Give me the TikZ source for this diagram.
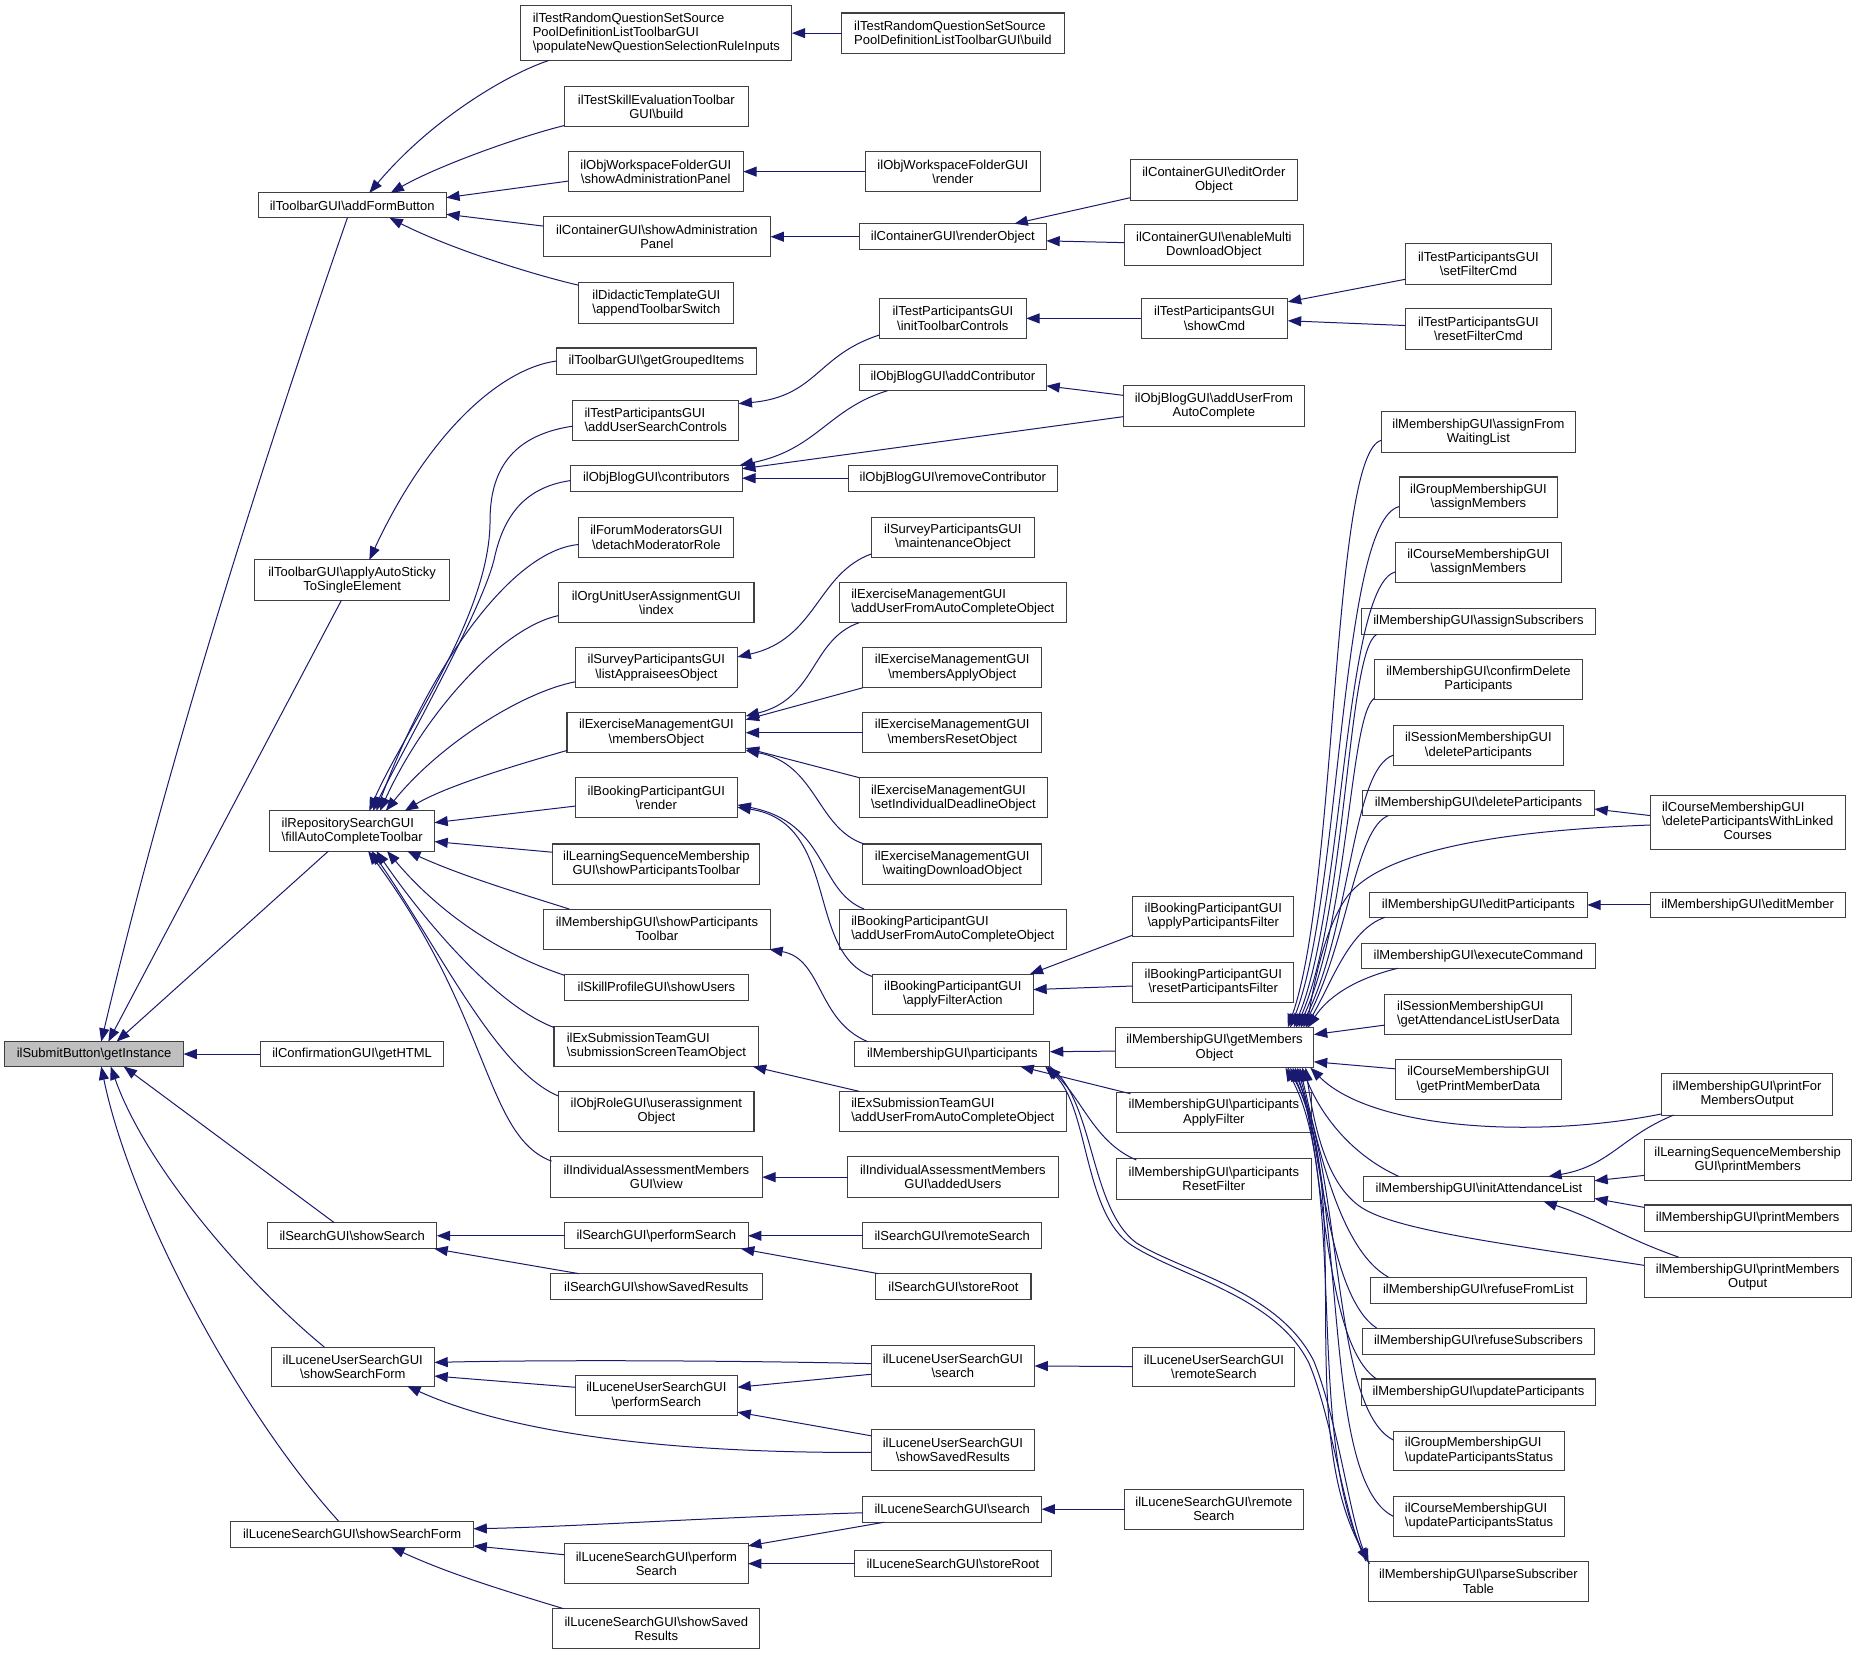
\documentclass[tikz,border=0pt]{standalone}
\usepackage{fontspec}
\setmainfont{Liberation Sans}
\usetikzlibrary{arrows.meta,calc}
\definecolor{edgec}{HTML}{191970}
\definecolor{boxc}{HTML}{404040}
\definecolor{rootc}{HTML}{BFBFBF}
\newcommand\bs{\textbackslash}
\tikzset{
  box/.style={draw=boxc, line width=0.8pt, fill=white, inner sep=0pt, outer sep=0pt, align=center, text=black},
  boxl/.style={box, align=left},
  rootbox/.style={box, fill=rootc},
  edg/.style={draw=edgec, line width=0.75pt, -{Triangle[length=10pt,width=7.5pt]}}
}
\newcommand\nd[7][box]{\node[#1, minimum width={(#5-#3)*0.8878pt}, minimum height={(#6-#4)*0.8878pt}] (#2) at ({(#3+#5)/2},{(#4+#6)/2}) {#7};}
\begin{document}
\begin{tikzpicture}[x=0.8878pt,y=-0.8878pt,font=\fontsize{9.75}{10.7}\selectfont]
\useasboundingbox (0,0) rectangle (1568,1398);
\fill[white] (0,0) rectangle (1568,1398);
% column 0/1
\nd[rootbox]{root}{4}{880}{155}{901}{ilSubmitButton\bs getInstance}
\nd{afb}{218}{163}{377}{184}{ilToolbarGUI\bs addFormButton}
\nd{aas}{215}{473}{380}{507}{ilToolbarGUI\bs applyAutoSticky\\ToSingleElement}
\nd[boxl]{fac}{228}{685}{367}{719}{ilRepositorySearchGUI\\\bs fillAutoCompleteToolbar}
\nd{html}{220}{880}{375}{901}{ilConfirmationGUI\bs getHTML}
\nd{ss}{226}{1033}{369}{1055}{ilSearchGUI\bs showSearch}
\nd{lussf}{229}{1138}{367}{1171}{ilLuceneUserSearchGUI\\\bs showSearchForm}
\nd{lssf}{195}{1285}{400}{1307}{ilLuceneSearchGUI\bs showSearchForm}
% column 2
\nd[boxl]{pop}{440}{5}{669}{51}{ilTestRandomQuestionSetSource\\PoolDefinitionListToolbarGUI\\\bs populateNewQuestionSelectionRuleInputs}
\nd{tse}{477}{73}{632}{107}{ilTestSkillEvaluationToolbar\\GUI\bs build}
\nd{wsf}{480}{128}{628}{162}{ilObjWorkspaceFolderGUI\\\bs showAdministrationPanel}
\nd{csap}{459}{183}{651}{217}{ilContainerGUI\bs showAdministration\\Panel}
\nd{dtg}{489}{239}{620}{273}{ilDidacticTemplateGUI\\\bs appendToolbarSwitch}
\nd{ggi}{470}{294}{639}{316}{ilToolbarGUI\bs getGroupedItems}
\nd[boxl]{tpasc}{484}{338}{624}{372}{ilTestParticipantsGUI\\\bs addUserSearchControls}
\nd{blogc}{482}{393}{627}{415}{ilObjBlogGUI\bs contributors}
\nd{fm}{489}{437}{620}{471}{ilForumModeratorsGUI\\\bs detachModeratorRole}
\nd{ou}{472}{492}{637}{526}{ilOrgUnitUserAssignmentGUI\\\bs index}
\nd{sla}{486}{547}{623}{581}{ilSurveyParticipantsGUI\\\bs listAppraiseesObject}
\nd{emo}{479}{602}{630}{636}{ilExerciseManagementGUI\\\bs membersObject}
\nd{bpr}{486}{657}{623}{691}{ilBookingParticipantGUI\\\bs render}
\nd{lsspt}{467}{713}{642}{747}{ilLearningSequenceMembership\\GUI\bs showParticipantsToolbar}
\nd{mspt}{459}{768}{651}{802}{ilMembershipGUI\bs showParticipants\\Toolbar}
\nd{spsu}{477}{823}{632}{845}{ilSkillProfileGUI\bs showUsers}
\nd[boxl]{exsst}{468}{867}{641}{901}{ilExSubmissionTeamGUI\\\bs submissionScreenTeamObject}
\nd{orua}{472}{922}{637}{956}{ilObjRoleGUI\bs userassignment\\Object}
\nd{iamv}{465}{977}{644}{1012}{ilIndividualAssessmentMembers\\GUI\bs view}
\nd{sgps}{477}{1033}{632}{1055}{ilSearchGUI\bs performSearch}
\nd{sgssr}{465}{1076}{644}{1098}{ilSearchGUI\bs showSavedResults}
\nd{lups}{486}{1162}{623}{1196}{ilLuceneUserSearchGUI\\\bs performSearch}
\nd{lsps}{477}{1304}{632}{1338}{ilLuceneSearchGUI\bs perform\\Search}
\nd{lssr}{467}{1359}{642}{1393}{ilLuceneSearchGUI\bs showSaved\\Results}
% column 3
\nd[boxl]{trqsb}{711}{11}{899}{45}{ilTestRandomQuestionSetSource\\PoolDefinitionListToolbarGUI\bs build}
\nd{wsfr}{731}{128}{879}{162}{ilObjWorkspaceFolderGUI\\\bs render}
\nd{ro}{726}{189}{884}{211}{ilContainerGUI\bs renderObject}
\nd{tpitc}{743}{252}{867}{286}{ilTestParticipantsGUI\\\bs initToolbarControls}
\nd{bac}{726}{308}{884}{330}{ilObjBlogGUI\bs addContributor}
\nd{brc}{717}{393}{893}{415}{ilObjBlogGUI\bs removeContributor}
\nd{smo}{736}{437}{874}{471}{ilSurveyParticipantsGUI\\\bs maintenanceObject}
\nd[boxl]{emaufac}{709}{492}{901}{526}{ilExerciseManagementGUI\\\bs addUserFromAutoCompleteObject}
\nd{emao}{729}{547}{880}{581}{ilExerciseManagementGUI\\\bs membersApplyObject}
\nd{emro}{729}{602}{880}{636}{ilExerciseManagementGUI\\\bs membersResetObject}
\nd[boxl]{emsid}{726}{657}{885}{691}{ilExerciseManagementGUI\\\bs setIndividualDeadlineObject}
\nd{emwdo}{729}{713}{880}{747}{ilExerciseManagementGUI\\\bs waitingDownloadObject}
\nd[boxl]{bpaufac}{709}{768}{901}{802}{ilBookingParticipantGUI\\\bs addUserFromAutoCompleteObject}
\nd{bpafa}{737}{823}{873}{857}{ilBookingParticipantGUI\\\bs applyFilterAction}
\nd{mp}{722}{880}{887}{901}{ilMembershipGUI\bs participants}
\nd[boxl]{exsaufac}{709}{922}{901}{956}{ilExSubmissionTeamGUI\\\bs addUserFromAutoCompleteObject}
\nd{iaau}{716}{977}{894}{1012}{ilIndividualAssessmentMembers\\GUI\bs addedUsers}
\nd{sgrs}{729}{1033}{880}{1055}{ilSearchGUI\bs remoteSearch}
\nd{sgsr}{740}{1076}{871}{1098}{ilSearchGUI\bs storeRoot}
\nd{lus}{736}{1137}{874}{1171}{ilLuceneUserSearchGUI\\\bs search}
\nd{lussr}{736}{1208}{874}{1242}{ilLuceneUserSearchGUI\\\bs showSavedResults}
\nd{lss}{729}{1264}{880}{1286}{ilLuceneSearchGUI\bs search}
\nd{lssroot}{722}{1310}{888}{1332}{ilLuceneSearchGUI\bs storeRoot}
% column 4
\nd{eoo}{955}{135}{1096}{169}{ilContainerGUI\bs editOrder\\Object}
\nd{emdo}{950}{190}{1101}{224}{ilContainerGUI\bs enableMulti\\DownloadObject}
\nd{scmd}{964}{252}{1088}{286}{ilTestParticipantsGUI\\\bs showCmd}
\nd{aufac}{949}{326}{1102}{360}{ilObjBlogGUI\bs addUserFrom\\AutoComplete}
\nd{bapf}{957}{757}{1093}{791}{ilBookingParticipantGUI\\\bs applyParticipantsFilter}
\nd{brpf}{957}{813}{1093}{847}{ilBookingParticipantGUI\\\bs resetParticipantsFilter}
\nd{gmo}{942}{868}{1110}{902}{ilMembershipGUI\bs getMembers\\Object}
\nd{paf}{943}{923}{1108}{957}{ilMembershipGUI\bs participants\\ApplyFilter}
\nd{prf}{943}{979}{1108}{1013}{ilMembershipGUI\bs participants\\ResetFilter}
\nd{lurs}{957}{1138}{1094}{1171}{ilLuceneUserSearchGUI\\\bs remoteSearch}
\nd{lsrs}{950}{1258}{1101}{1292}{ilLuceneSearchGUI\bs remote\\Search}
% column 5
\nd{sfc}{1187}{206}{1311}{240}{ilTestParticipantsGUI\\\bs setFilterCmd}
\nd{rfc}{1187}{261}{1311}{295}{ilTestParticipantsGUI\\\bs resetFilterCmd}
\nd{afwl}{1167}{348}{1331}{382}{ilMembershipGUI\bs assignFrom\\WaitingList}
\nd{gam}{1182}{403}{1316}{437}{ilGroupMembershipGUI\\\bs assignMembers}
\nd{cam}{1179}{458}{1319}{492}{ilCourseMembershipGUI\\\bs assignMembers}
\nd{asub}{1150}{514}{1348}{536}{ilMembershipGUI\bs assignSubscribers}
\nd{cdp}{1161}{557}{1337}{591}{ilMembershipGUI\bs confirmDelete\\Participants}
\nd{sdp}{1177}{613}{1321}{647}{ilSessionMembershipGUI\\\bs deleteParticipants}
\nd{dp}{1151}{668}{1347}{689}{ilMembershipGUI\bs deleteParticipants}
\nd{ep}{1157}{754}{1341}{775}{ilMembershipGUI\bs editParticipants}
\nd{ec}{1150}{797}{1348}{818}{ilMembershipGUI\bs executeCommand}
\nd[boxl]{sgald}{1170}{840}{1328}{874}{ilSessionMembershipGUI\\\bs getAttendanceListUserData}
\nd{cgpmd}{1179}{895}{1319}{929}{ilCourseMembershipGUI\\\bs getPrintMemberData}
\nd{ial}{1152}{994}{1347}{1015}{ilMembershipGUI\bs initAttendanceList}
\nd{rfl}{1158}{1079}{1340}{1101}{ilMembershipGUI\bs refuseFromList}
\nd{rs}{1151}{1122}{1347}{1144}{ilMembershipGUI\bs refuseSubscribers}
\nd{up}{1150}{1165}{1348}{1187}{ilMembershipGUI\bs updateParticipants}
\nd[boxl]{gups}{1177}{1209}{1322}{1242}{ilGroupMembershipGUI\\\bs updateParticipantsStatus}
\nd[boxl]{cups}{1177}{1264}{1322}{1298}{ilCourseMembershipGUI\\\bs updateParticipantsStatus}
\nd{pst}{1156}{1319}{1342}{1353}{ilMembershipGUI\bs parseSubscriber\\Table}
% column 6
\nd{dpwlc}{1394}{672}{1559}{718}{\begin{tabular}{@{}l@{}}ilCourseMembershipGUI\\\bs deleteParticipantsWithLinked\\\multicolumn{1}{@{}c@{}}{Courses}\end{tabular}}
\nd{em}{1394}{754}{1559}{775}{ilMembershipGUI\bs editMember}
\nd{pfmo}{1404}{907}{1548}{942}{ilMembershipGUI\bs printFor\\MembersOutput}
\nd{lspm}{1389}{963}{1564}{997}{ilLearningSequenceMembership\\GUI\bs printMembers}
\nd{pm}{1389}{1018}{1564}{1040}{ilMembershipGUI\bs printMembers}
\nd{pmo}{1389}{1062}{1564}{1096}{ilMembershipGUI\bs printMembers\\Output}

% ---------- edges into root
\draw[edg] ($(afb.south)+(-4,0)$) .. controls (215,410) and (140,650) .. ($(root.north)+(6,0)$);
\draw[edg] ($(aas.south)+(-9,0)$) -- ($(root.north)+(12,0)$);
\draw[edg] ($(fac.south)+(-20,0)$) -- ($(root.north)+(19,0)$);
\draw[edg] (html.west) -- (root.east);
\draw[edg] ($(ss.north)+(-15,0)$) -- ($(root.south)+(25,0)$);
\draw[edg] ($(lussf.north)+(-24,0)$) .. controls (215,1090) and (125,990) .. ($(root.south)+(14,0)$);
\draw[edg] ($(lssf.north)+(-11.5,0)$) .. controls (200,1190) and (110,1020) .. ($(root.south)+(6,0)$);
% ---------- addFormButton
\draw[edg] ($(pop.south west)+(24,0)$) .. controls (430,62) and (365,100) .. ($(afb.north)+(14.5,0)$);
\draw[edg] ($(tse.south west)+(0,-1)$) .. controls (440,115) and (370,140) .. ($(afb.north)+(32.5,0)$);
\draw[edg] ($(wsf.west)+(0,8)$) -- ($(afb.east)+(0,-6.5)$);
\draw[edg] ($(csap.west)+(0,-9)$) -- ($(afb.east)+(0,7.5)$);
\draw[edg] ($(dtg.west)+(0,-15)$) .. controls (450,232) and (380,210) .. ($(afb.south)+(31.5,0)$);
\draw[edg] (trqsb.west) -- (pop.east);
\draw[edg] (wsfr.west) -- (wsf.east);
\draw[edg] (ro.west) -- (csap.east);
\draw[edg] ($(eoo.south west)+(0,-2)$) -- ($(ro.north east)+(-27,0)$);
\draw[edg] ($(emdo.west)+(0,-2)$) -- ($(ro.east)+(0,3.5)$);
% ---------- applyAutoSticky
\draw[edg] (ggi.west) .. controls (420,312) and (360,370) .. ($(aas.north)+(14.5,0)$);
% ---------- fillAutoCompleteToolbar
\draw[edg] ($(tpasc.west)+(0,5)$) .. controls (430,368) and (414,400) .. (414,440) .. controls (414,520) and (340,620) .. ($(fac.north)+(14.5,0)$);
\draw[edg] ($(blogc.west)+(0,2)$) .. controls (440,412) and (425,440) .. (418,470) .. controls (410,510) and (345,625) .. ($(fac.north)+(17.5,0)$);
\draw[edg] ($(fm.west)+(0,6)$) .. controls (430,465) and (360,570) .. ($(fac.north)+(20.5,0)$);
\draw[edg] ($(ou.west)+(0,11)$) .. controls (425,530) and (360,600) .. ($(fac.north)+(23.5,0)$);
\draw[edg] ($(sla.west)+(0,12)$) .. controls (440,585) and (370,630) .. ($(fac.north)+(28.5,0)$);
\draw[edg] ($(emo.south west)+(0,-2)$) .. controls (430,648) and (375,665) .. ($(fac.north east)+(-25,0)$);
\draw[edg] ($(bpr.west)+(0,7)$) -- ($(fac.east)+(0,-7)$);
\draw[edg] ($(lsspt.west)+(0,-10)$) -- ($(fac.east)+(0,9)$);
\draw[edg] ($(mspt.north west)+(22,0)$) .. controls (440,755) and (390,740) .. ($(fac.south)+(46.5,0)$);
\draw[edg] ($(spsu.north west)+(0,1)$) .. controls (420,805) and (370,770) .. ($(fac.south)+(29.5,0)$);
\draw[edg] ($(exsst.north west)+(0,1)$) .. controls (420,850) and (360,780) .. ($(fac.south)+(20.5,0)$);
\draw[edg] ($(orua.north west)+(0,4)$) .. controls (420,905) and (370,800) .. ($(fac.south)+(16.5,0)$);
\draw[edg] ($(iamv.north west)+(1,4)$) .. controls (410,960) and (415,860) .. ($(fac.south)+(13.5,0)$);
% ---------- column 3 -> column 2
\draw[edg] ($(tpitc.south west)+(0,-3)$) .. controls (690,300) and (690,335) .. ($(tpasc.east)+(0,-14)$);
\draw[edg] ($(bac.south west)+(24,0)$) .. controls (700,345) and (690,380) .. ($(blogc.north east)+(-2,0)$);
\draw[edg] ($(aufac.west)+(0,9)$) -- ($(blogc.east)+(0,-8)$);
\draw[edg] ($(aufac.west)+(0,-9)$) -- ($(bac.east)+(0,7)$);
\draw[edg] (brc.west) -- (blogc.east);
\draw[edg] ($(smo.south west)+(0,-3)$) .. controls (690,485) and (690,540) .. ($(sla.east)+(0,-9)$);
\draw[edg] ($(emaufac.south west)+(17,0)$) .. controls (685,540) and (690,590) .. ($(emo.east)+(0,-14)$);
\draw[edg] (emao.south west) -- ($(emo.east)+(0,-11)$);
\draw[edg] (emro.west) -- (emo.east);
\draw[edg] (emsid.north west) -- ($(emo.east)+(0,13)$);
\draw[edg] ($(emwdo.north west)+(1,0)$) .. controls (690,700) and (690,645) .. ($(emo.east)+(0,15)$);
\draw[edg] ($(bpaufac.north west)+(21,0)$) .. controls (690,752) and (700,695) .. ($(bpr.east)+(0,6)$);
\draw[edg] ($(bpafa.west)+(0,-15)$) .. controls (680,805) and (710,695) .. ($(bpr.east)+(0,8)$);
\draw[edg] ($(bapf.south west)+(0,-1)$) -- ($(bpafa.north east)+(-3,0)$);
\draw[edg] ($(brpf.west)+(0,3)$) -- ($(bpafa.east)+(0,-4)$);
\draw[edg] ($(mp.north west)+(11,0)$) .. controls (690,862) and (695,810) .. ($(mspt.south east)+(-1,0)$);
\draw[edg] ($(gmo.west)+(0,3)$) -- ($(mp.east)+(0,-2)$);
\draw[edg] ($(paf.north west)+(12,1)$) -- ($(mp.south east)+(-25,0)$);
\draw[edg] ($(prf.north west)+(17,1)$) .. controls (925,965) and (915,930) .. ($(mp.south east)+(-2,0)$);
\draw[edg] ($(mp.south east)+(0,0)$) .. controls (925,930) and (920,1020) .. (960,1050) .. controls (1000,1075) and (1080,1090) .. (1110,1150) .. controls (1130,1200) and (1140,1280) .. ($(pst.north west)+(0,1)$);
\draw[edg] ($(pst.north west)+(-2,0)$) .. controls (1135,1280) and (1126,1200) .. (1106,1152) .. controls (1078,1095) and (998,1079) .. (956,1052) .. controls (915,1025) and (920,935) .. ($(mp.south east)+(-4,0)$);
\draw[edg] ($(exsaufac.north west)+(17,0)$) -- ($(exsst.south east)+(-5,0)$);
\draw[edg] (iaau.west) -- (iamv.east);
\draw[edg] (sgps.west) -- (ss.east);
\draw[edg] ($(sgssr.north west)+(24,0)$) -- ($(ss.south east)+(-2,0)$);
\draw[edg] (sgrs.west) -- (sgps.east);
\draw[edg] ($(sgsr.north west)+(2,0)$) -- ($(sgps.south east)+(-6,0)$);
\draw[edg] ($(lus.west)+(0,-2)$) .. controls (600,1149) and (450,1149) .. ($(lussf.east)+(0,-3.5)$);
\draw[edg] ($(lups.west)+(0,-7)$) -- ($(lussf.east)+(0,8)$);
\draw[edg] ($(lussr.west)+(0,2)$) .. controls (560,1228) and (430,1210) .. ($(lussf.south east)+(-23,0)$);
\draw[edg] ($(lus.west)+(0,7)$) -- ($(lups.east)+(0,-7)$);
\draw[edg] ($(lussr.west)+(0,-12)$) -- ($(lups.east)+(0,14)$);
\draw[edg] (lurs.west) -- (lus.east);
\draw[edg] ($(lss.west)+(0,3)$) .. controls (600,1282) and (480,1290) .. ($(lssf.east)+(0,-4.5)$);
\draw[edg] ($(lsps.west)+(0,-7.5)$) -- ($(lssf.south east)+(0,-1)$);
\draw[edg] ($(lssr.north west)+(9,0)$) .. controls (430,1345) and (380,1330) .. ($(lssf.south)+(33,0)$);
\draw[edg] ($(lss.south west)+(18,0)$) -- ($(lsps.north east)+(0,2)$);
\draw[edg] (lssroot.west) -- (lsps.east);
\draw[edg] (lsrs.west) -- (lss.east);
% ---------- column 4/5
\draw[edg] (scmd.west) -- (tpitc.east);
\draw[edg] ($(sfc.west)+(0,13)$) -- ($(scmd.north east)+(0,3)$);
\draw[edg] ($(rfc.west)+(0,-3)$) -- ($(scmd.east)+(0,2)$);
% ---------- into getMembersObject (top)
\draw[edg] ($(afwl.west)+(0,7)$) .. controls (1125,382) and (1130,750) .. ($(gmo.north)+(62,0)$);
\draw[edg] ($(gam.west)+(0,8)$) .. controls (1132,440) and (1133,760) .. ($(gmo.north)+(64,0)$);
\draw[edg] ($(cam.west)+(0,8)$) .. controls (1135,495) and (1136,765) .. ($(gmo.north)+(67,0)$);
\draw[edg] ($(asub.south west)+(13,0)$) .. controls (1138,550) and (1138,770) .. ($(gmo.north)+(69,0)$);
\draw[edg] ($(cdp.south west)+(0,-1)$) .. controls (1140,605) and (1140,775) .. ($(gmo.north)+(71,0)$);
\draw[edg] ($(sdp.west)+(0,8)$) .. controls (1142,650) and (1142,780) .. ($(gmo.north)+(73,0)$);
\draw[edg] ($(dp.south west)+(22,0)$) .. controls (1145,700) and (1140,790) .. ($(gmo.north)+(75,0)$);
\draw[edg] ($(dpwlc.west)+(0,2)$) .. controls (1260,702) and (1170,720) .. (1140,755) .. controls (1120,780) and (1110,830) .. ($(gmo.north)+(78,0)$);
\draw[edg] ($(ep.south west)+(13,0)$) .. controls (1140,785) and (1125,830) .. ($(gmo.north)+(77,0)$);
\draw[edg] ($(ec.south west)+(31,0)$) .. controls (1140,828) and (1120,845) .. ($(gmo.north)+(79,0)$);
\draw[edg] ($(sgald.west)+(0,9)$) -- ($(gmo.east)+(0,-11)$);
\draw[edg] ($(cgpmd.west)+(0,-9)$) -- ($(gmo.east)+(0,12)$);
% ---------- into getMembersObject (bottom)
\draw[edg] ($(pfmo.south west)+(0,-1)$) .. controls (1300,962) and (1160,955) .. ($(gmo.south east)+(-3,0)$);
\draw[edg] ($(ial.north west)+(30,0)$) .. controls (1140,975) and (1115,940) .. ($(gmo.south)+(74,0)$);
\draw[edg] ($(pmo.west)+(0,-10)$) .. controls (1280,1052) and (1180,1040) .. (1150,1020) .. controls (1120,1000) and (1110,950) .. ($(gmo.south)+(77,0)$);
\draw[edg] ($(rfl.north west)+(15,0)$) .. controls (1130,1055) and (1112,960) .. ($(gmo.south)+(72,0)$);
\draw[edg] ($(rs.north west)+(12,0)$) .. controls (1122,1095) and (1116,970) .. ($(gmo.south)+(70,0)$);
\draw[edg] ($(up.north west)+(13,0)$) .. controls (1118,1135) and (1120,980) .. ($(gmo.south)+(68,0)$);
\draw[edg] ($(gups.west)+(0,-9)$) .. controls (1125,1190) and (1135,1000) .. ($(gmo.south)+(66,0)$);
\draw[edg] (cups.west) .. controls (1115,1250) and (1140,1010) .. ($(gmo.south)+(64,0)$);
\draw[edg] ($(gmo.south)+(62,0)$) .. controls (1150,1000) and (1090,1200) .. (pst.north west);
\draw[edg] ($(pst.north west)+(1,2)$) .. controls (1100,1230) and (1140,1000) .. ($(gmo.south)+(60,0)$);
% ---------- misc right side
\draw[edg] ($(dpwlc.west)+(0,-6)$) -- ($(dp.east)+(0,5)$);
\draw[edg] (em.west) -- (ep.east);
\draw[edg] ($(pfmo.south west)+(10,0)$) .. controls (1370,960) and (1360,985) .. ($(ial.north east)+(-39,0)$);
\draw[edg] ($(lspm.west)+(0,13)$) -- ($(ial.east)+(0,-7)$);
\draw[edg] ($(pm.west)+(0,-9)$) -- ($(ial.east)+(0,8)$);
\draw[edg] ($(pmo.north west)+(29,0)$) .. controls (1370,1045) and (1350,1030) .. ($(ial.south east)+(-43,0)$);
\end{tikzpicture}
\end{document}
